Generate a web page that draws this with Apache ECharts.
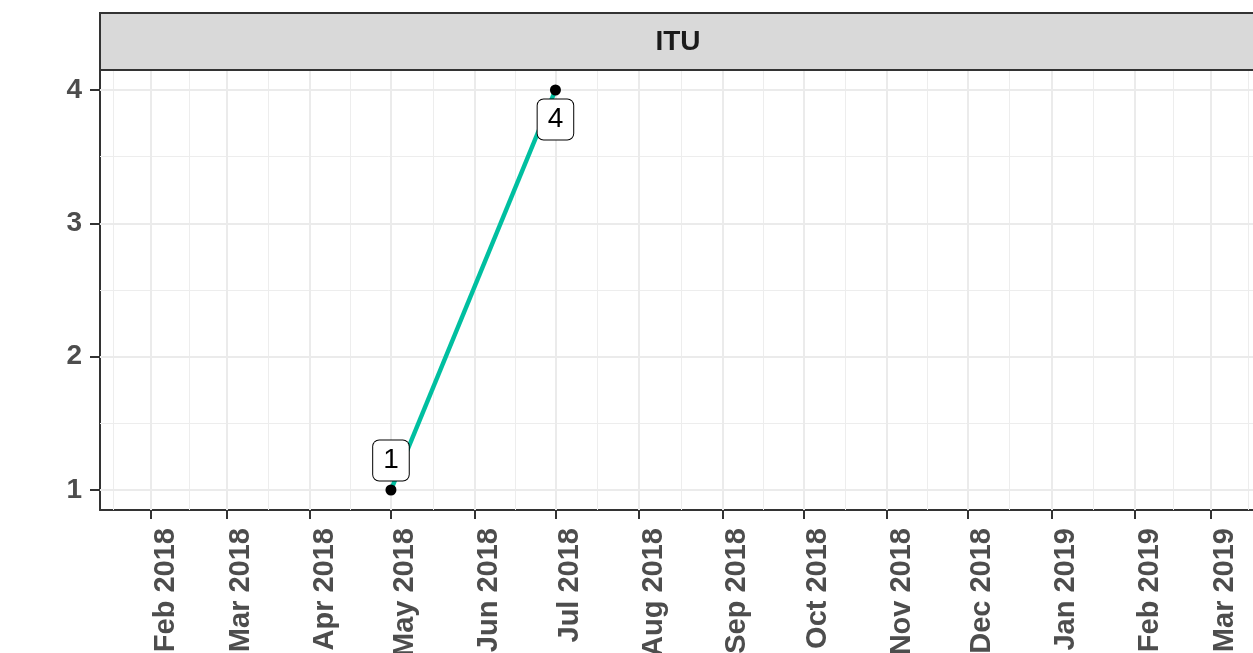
<!DOCTYPE html>
<html>
<head>
<meta charset="utf-8">
<title>ITU</title>
<script src="https://cdn.jsdelivr.net/npm/echarts@6/dist/echarts.min.js"></script>
<style>
html, body { margin: 0; padding: 0; background: #fff; }
#chart { width: 1253px; height: 653px; }
</style>
</head>
<body>
<div id="chart"></div>
<script>
// 数据
const panelName = 'ITU';
const pointDates = ['2018-05-01', '2018-07-01'];
const pointValues = [1, 4];
const xTickDates = [
  '2018-02-01', '2018-03-01', '2018-04-01', '2018-05-01', '2018-06-01', '2018-07-01', '2018-08-01',
  '2018-09-01', '2018-10-01', '2018-11-01', '2018-12-01', '2019-01-01', '2019-02-01', '2019-03-01'
];
const xTickLabels = [
  'Feb 2018', 'Mar 2018', 'Apr 2018', 'May 2018', 'Jun 2018', 'Jul 2018', 'Aug 2018',
  'Sep 2018', 'Oct 2018', 'Nov 2018', 'Dec 2018', 'Jan 2019', 'Feb 2019', 'Mar 2019'
];
const yTicks = [1, 2, 3, 4];

// 坐标范围（时间用毫秒时间戳，数值轴）
const ts = (s) => Date.parse(s + 'T00:00:00Z');
const xMin = ts('2018-01-13') + 2 * 3600e3;
const xMax = ts('2019-03-17') + 20 * 3600e3;
const yMin = 0.85;
const yMax = 4.15;

const xTicks = xTickDates.map(ts);
const labelByTs = {};
xTicks.forEach((t, i) => { labelByTs[t] = xTickLabels[i]; });

// 次网格线：相邻刻度的中点（两端各延伸一格）
function minorBreaks(b, lo, hi) {
  const d = b[1] - b[0];
  const ext = [b[0] - d].concat(b, [b[b.length - 1] + d]);
  const out = [];
  for (let i = 0; i < ext.length - 1; i++) {
    const m = (ext[i] + ext[i + 1]) / 2;
    if (m > lo && m < hi) out.push(m);
  }
  return out;
}
const xMinor = minorBreaks(xTicks, xMin, xMax);
const yMinor = minorBreaks(yTicks, yMin, yMax);

const minorStyle = { color: '#EDEDED', width: 1, type: 'solid' };
const majorStyle = { color: '#EBEBEB', width: 2, type: 'solid' };
const gridLines = []
  .concat(xMinor.map(v => ({ xAxis: v, lineStyle: minorStyle })))
  .concat(yMinor.map(v => ({ yAxis: v, lineStyle: minorStyle })))
  .concat(xTicks.map(v => ({ xAxis: v, lineStyle: majorStyle })))
  .concat(yTicks.map(v => ({ yAxis: v, lineStyle: majorStyle })));

const maxVal = Math.max.apply(null, pointValues);
const lineData = pointDates.map((d, i) => ({
  value: [ts(d), pointValues[i]],
  label: { position: pointValues[i] === maxVal ? 'bottom' : 'top' }
}));

const axisText = {
  fontFamily: 'Liberation Sans, Arial, sans-serif',
  fontWeight: 'bold',
  color: '#4D4D4D'
};

const chart = echarts.init(document.getElementById('chart'), null, { renderer: 'canvas' });
const option = {
  animation: false,
  backgroundColor: '#fff',
  grid: {
    left: 100,
    top: 70,
    right: -3,
    bottom: 143,
    containLabel: false,
    outerBoundsMode: 'none'
  },
  xAxis: {
    type: 'value',
    min: xMin,
    max: xMax,
    axisLine: { show: true, lineStyle: { color: '#333333', width: 2 } },
    axisTick: { show: true, length: 9, customValues: xTicks, lineStyle: { color: '#333333', width: 2 } },
    splitLine: { show: false },
    minorTick: { show: false },
    axisLabel: Object.assign({
      rotate: 90,
      margin: 18,
      fontSize: 29,
      verticalAlign: 'top',
      customValues: xTicks,
      formatter: (v) => labelByTs[v] || ''
    }, axisText)
  },
  yAxis: {
    type: 'value',
    min: yMin,
    max: yMax,
    axisLine: { show: true, lineStyle: { color: '#333333', width: 2 } },
    axisTick: { show: true, length: 10, customValues: yTicks, lineStyle: { color: '#333333', width: 2 } },
    splitLine: { show: false },
    axisLabel: Object.assign({
      margin: 18,
      fontSize: 28,
      customValues: yTicks
    }, axisText)
  },
  series: [
    {
      // 网格线
      type: 'line',
      data: [],
      z: 1,
      silent: true,
      markLine: {
        silent: true,
        symbol: ['none', 'none'],
        label: { show: false },
        lineStyle: { type: 'solid' },
        animation: false,
        data: gridLines
      }
    },
    {
      type: 'line',
      z: 5,
      data: lineData,
      symbol: 'circle',
      symbolSize: 11,
      itemStyle: { color: '#000000' },
      lineStyle: { color: '#00BFA0', width: 4.5 },
      label: {
        show: true,
        distance: 4,
        formatter: (p) => String(p.value[1]),
        fontFamily: 'Liberation Sans, Arial, sans-serif',
        fontSize: 28,
        lineHeight: 28,
        color: '#000000',
        backgroundColor: '#ffffff',
        borderColor: '#000000',
        borderWidth: 1,
        borderRadius: 6,
        padding: [6, 10]
      }
    }
  ],
  graphic: [
    {
      // 分面标题条
      type: 'rect',
      shape: { x: 100, y: 13, width: 1160, height: 57 },
      style: { fill: '#D9D9D9', stroke: '#333333', lineWidth: 2 },
      z: 10
    },
    {
      type: 'text',
      x: 678,
      y: 42,
      style: {
        text: panelName,
        fill: '#1A1A1A',
        font: 'bold 28px "Liberation Sans", Arial, sans-serif',
        align: 'center',
        verticalAlign: 'middle'
      },
      z: 11
    }
  ]
};
chart.setOption(option);
</script>
</body>
</html>
